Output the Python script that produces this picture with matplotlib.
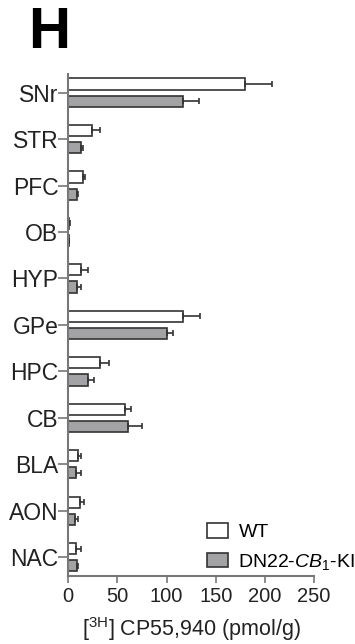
import numpy as np
import matplotlib.pyplot as plt

plt.rcParams['font.family'] = ['Liberation Sans', 'DejaVu Sans']
plt.rcParams['mathtext.fontset'] = 'custom'
plt.rcParams['mathtext.rm'] = 'Liberation Sans'
plt.rcParams['mathtext.it'] = 'Liberation Sans:italic'

regions = ['SNr', 'STR', 'PFC', 'OB', 'HYP', 'GPe', 'HPC', 'CB', 'BLA', 'AON', 'NAC']
wt_mean = [180, 24, 15, 1, 13, 117, 32, 58, 9.5, 12.5, 8]
wt_err = [27, 8, 2.5, 1, 7, 16.5, 9, 6, 3.5, 4, 5]
ki_mean = [117, 13, 9, 0.5, 9, 100, 20.5, 60.5, 8, 7, 9]
ki_err = [16, 2, 1, 0.8, 4, 7, 6, 15, 5, 3.5, 1.5]
xticks = [0, 50, 100, 150, 200, 250]

fig = plt.figure(figsize=(3.55, 6.44), dpi=100)
ax = fig.add_axes([0.192, 0.106, 0.693, 0.779])

y = np.arange(len(regions))
h = 0.24
off = 0.185
edge = '#333333'
ax.barh(y - off, wt_mean, height=h, color='white', edgecolor=edge, linewidth=1.2,
        xerr=[np.zeros(len(wt_err)), wt_err],
        error_kw=dict(ecolor=edge, elinewidth=1.2, capsize=2.5, capthick=1.2),
        label='WT')
ax.barh(y + off, ki_mean, height=h, color='#a3a3a5', edgecolor=edge, linewidth=1.2,
        xerr=[np.zeros(len(ki_err)), ki_err],
        error_kw=dict(ecolor=edge, elinewidth=1.2, capsize=2.5, capthick=1.2),
        label=r'DN22-$\mathit{CB}_{\mathit{1}}$-KI')

ax.set_ylim(len(regions) - 0.6, -0.4)
ax.set_xlim(0, 250)
ax.set_yticks(y)
ax.set_yticklabels(regions, fontsize=16.5, color='#222222')
ax.set_xticks(xticks)
ax.set_xticklabels([str(t) for t in xticks], fontsize=14.5, color='#222222')
ax.tick_params(axis='y', length=7, width=1.2, color='#777777', pad=0)
ax.tick_params(axis='x', length=5, width=1.2, color='#777777', pad=3)
for s in ['top', 'right']:
    ax.spines[s].set_visible(False)
for s in ['left', 'bottom']:
    ax.spines[s].set_color('#777777')
    ax.spines[s].set_linewidth(1.5)

ax.set_xlabel(r'[$^{\mathrm{3H}}$] CP55,940 (pmol/g)', fontsize=15.5, color='#222222', labelpad=7)

ax.legend(loc='lower right', bbox_to_anchor=(1.0, 0.112), bbox_transform=fig.transFigure,
          frameon=False, fontsize=14, borderpad=0, borderaxespad=0,
          handlelength=1.05, handleheight=0.75, handletextpad=0.55, labelspacing=0.55)

fig.text(0.08, 0.99, 'H', fontsize=42, fontweight='bold', va='top', ha='left')

fig.savefig('out.png', dpi=100)
